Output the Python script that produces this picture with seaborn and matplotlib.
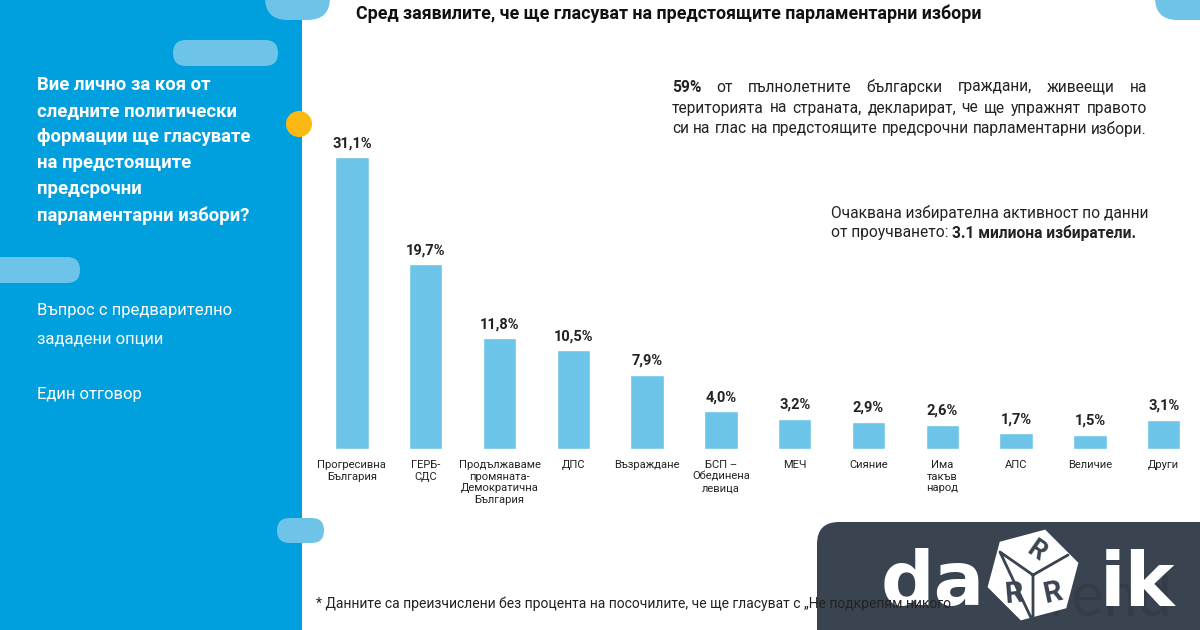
import numpy as np
import pandas as pd
import seaborn as sns
import matplotlib
matplotlib.use("Agg")
import matplotlib.pyplot as plt
from matplotlib.patches import FancyBboxPatch, Rectangle, Circle, RegularPolygon

sns.set_style("white")
plt.rcParams['font.family'] = ['Roboto', 'DejaVu Sans']

# data
parties = ["Прогресивна\nБългария", "ГЕРБ-\nСДС", "Продължаваме\nпромяната-\nДемократична\nБългария",
           "ДПС", "Възраждане", "БСП –\nОбединена\nлевица", "МЕЧ", "Сияние",
           "Има\nтакъв\nнарод", "АПС", "Величие", "Други"]
shares = [31.1, 19.7, 11.8, 10.5, 7.9, 4.0, 3.2, 2.9, 2.6, 1.7, 1.5, 3.1]

title = "Сред заявилите, че ще гласуват на предстоящите парламентарни избори"
question = ["Вие лично за коя от", "следните политически", "формации ще гласувате",
            "на предстоящите", "предсрочни", "парламентарни избори?"]
note1 = "Въпрос с предварително"
note2 = "зададени опции"
note3 = "Един отговор"
para1 = [[("59%", "bold"), ("от", "normal"), ("пълнолетните", "normal"), ("български", "normal"),
          ("граждани,", "normal"), ("живеещи", "normal"), ("на", "normal")],
         "територията на страната, декларират, че ще упражнят правото".split(),
         "си на глас на предстоящите предсрочни парламентарни избори.".split()]
turnout_a = "Очаквана избирателна активност по данни"
turnout_b = "от проучването: "
turnout_c = "3.1 милиона избиратели."
footnote = "* Данните са преизчислени без процента на посочилите, че ще гласуват с „Не подкрепям никого"

W, H = 1200, 630
BLUE = "#009fde"
LIGHT = "#6ec3e8"
BAR = "#6cc4e8"
DARK = "#3a4450"

fig = plt.figure(figsize=(12, 6.3), dpi=100)
fig.patch.set_facecolor("white")

# background / decoration layer in pixel coords
bg = fig.add_axes([0, 0, 1, 1], zorder=0)
bg.set_xlim(0, W)
bg.set_ylim(H, 0)
bg.axis("off")

bg.add_patch(Rectangle((0, 0), 302, H, color=BLUE, lw=0))


def pill(x0, x1, y0, y1):
    h = y1 - y0
    bg.add_patch(FancyBboxPatch((x0, y0), x1 - x0, h, boxstyle=f"round,pad=0,rounding_size={h/2}",
                                color=LIGHT, lw=0))


pill(265, 330, -25, 20)
pill(1155, 1230, -25, 20)
pill(173, 278, 40, 66)
pill(-30, 80, 257, 283)
pill(277, 324, 518, 543)
bg.add_patch(Circle((299, 124), 13, color="#fdb913", lw=0))

# dark logo panel
bg.add_patch(FancyBboxPatch((817, 522), 420, 150, boxstyle="round,pad=0,rounding_size=22",
                            color=DARK, lw=0))
bg.text(1100, 598, "trend", fontsize=44, color="#333c47", ha="center", va="center",
        family="Lato", zorder=2)
bg.text(933, 585, "da", fontsize=54, fontweight="bold", color="white", ha="center", va="center",
        family="DejaVu Sans", zorder=3)
bg.text(1137, 585, "ik", fontsize=54, fontweight="bold", color="white", ha="center", va="center",
        family="DejaVu Sans", zorder=3)
bg.add_patch(RegularPolygon((1033, 575), 6, radius=47, orientation=np.radians(15),
                            color="white", lw=0, zorder=3))
bg.plot([1033, 1033, 1000, 1033, 1068], [575, 622, 552, 575, 555], color=DARK, lw=2, zorder=4)
bg.text(1036, 551, "R", fontsize=19, fontweight="bold", color=DARK, ha="center", va="center",
        rotation=-35, zorder=5)
bg.text(1014, 594, "R", fontsize=21, fontweight="bold", color=DARK, ha="center", va="center",
        rotation=5, zorder=5)
bg.text(1053, 593, "R", fontsize=21, fontweight="bold", color=DARK, ha="center", va="center",
        rotation=12, zorder=5)

# bar chart
ax = fig.add_axes([315 / W, 181 / H, 885.6 / W, 328.6 / H], zorder=1)
ax.patch.set_alpha(0)
df = pd.DataFrame({"party": parties, "share": shares})
sns.barplot(data=df, x="party", y="share", color=BAR, saturation=1, width=0.45, ax=ax)
ax.set_xlim(-0.5, len(parties) - 0.5)
ax.set_ylim(0, 35)
ax.set_xlabel("")
ax.set_ylabel("")
ax.set_yticks([])
sns.despine(ax=ax, left=True, bottom=True)
ax.tick_params(axis="x", length=0, pad=8)
for lab in ax.get_xticklabels():
    lab.set_fontsize(8)
    lab.set_color("#222222")
    lab.set_linespacing(1.2)
ax.bar_label(ax.containers[0], labels=[f"{v:.1f}%".replace(".", ",") for v in shares],
             padding=5, fontsize=10.5, fontweight="bold", color="#222222")


def px(x, y):
    return x / W, 1 - y / H


fig.text(*px(356, 14), title, fontsize=12.8, fontweight="bold", color="#111111", va="center")

for i, line in enumerate(question):
    fig.text(*px(37, [85, 111, 137, 163, 189, 216][i]), line, fontsize=13.3, fontweight="bold",
             color="white", va="center")
fig.text(*px(37, 311), note1, fontsize=12, color="white", va="center")
fig.text(*px(37, 339), note2, fontsize=12, color="white", va="center")
fig.text(*px(37, 394), note3, fontsize=12, color="white", va="center")

renderer = fig.canvas.get_renderer()


def justify(words, y, x0, x1, size):
    objs = []
    for w in words:
        if isinstance(w, tuple):
            txt, wt = w
        else:
            txt, wt = w, "normal"
        objs.append(fig.text(*px(x0, y), txt, fontsize=size, fontweight=wt, color="#222222",
                             va="center"))
    widths = [o.get_window_extent(renderer).width for o in objs]
    gap = max((x1 - x0 - sum(widths)) / (len(objs) - 1), 3.5)
    x = x0
    for o, w in zip(objs, widths):
        o.set_x(x / W)
        x += w + gap


for words, y in zip(para1, [87, 108, 129]):
    justify(words, y, 672, 1147, 11.2)

fig.text(*px(831, 213), turnout_a, fontsize=11.2, color="#222222", va="center")
t = fig.text(*px(831, 233), turnout_b, fontsize=11.2, color="#222222", va="center")
wb = t.get_window_extent(renderer).width
fig.text(*px(831 + wb, 233), turnout_c, fontsize=11.2, fontweight="bold", color="#222222",
         va="center")

fig.text(*px(316, 604), footnote, fontsize=10, color="#222222", va="center", zorder=5)

fig.savefig("out.png", dpi=100)
